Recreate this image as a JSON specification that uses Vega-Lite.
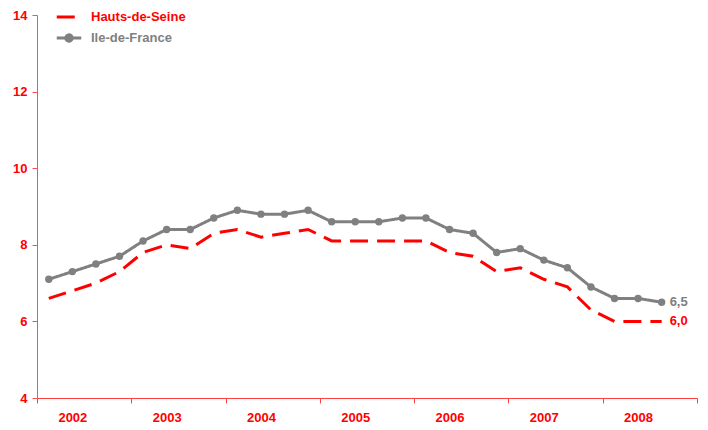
{
  "$schema": "https://vega.github.io/schema/vega-lite/v6.json",
  "width": 660,
  "height": 383,
  "autosize": {"type": "none"},
  "padding": {"left": 37, "top": 15, "right": 11, "bottom": 32},
  "background": "white",
  "config": {
    "view": {"stroke": null},
    "font": "Liberation Sans",
    "locale": {"number": {"decimal": ",", "thousands": " ", "grouping": [3], "currency": ["", " €"]}}
  },
  "data": {
    "values": [
      {"t": 2002.125, "series": "Hauts-de-Seine", "value": 6.6},
      {"t": 2002.375, "series": "Hauts-de-Seine", "value": 6.8},
      {"t": 2002.625, "series": "Hauts-de-Seine", "value": 7.0},
      {"t": 2002.875, "series": "Hauts-de-Seine", "value": 7.3},
      {"t": 2003.125, "series": "Hauts-de-Seine", "value": 7.8},
      {"t": 2003.375, "series": "Hauts-de-Seine", "value": 8.0},
      {"t": 2003.625, "series": "Hauts-de-Seine", "value": 7.9},
      {"t": 2003.875, "series": "Hauts-de-Seine", "value": 8.3},
      {"t": 2004.125, "series": "Hauts-de-Seine", "value": 8.4},
      {"t": 2004.375, "series": "Hauts-de-Seine", "value": 8.2},
      {"t": 2004.625, "series": "Hauts-de-Seine", "value": 8.3},
      {"t": 2004.875, "series": "Hauts-de-Seine", "value": 8.4},
      {"t": 2005.125, "series": "Hauts-de-Seine", "value": 8.1},
      {"t": 2005.375, "series": "Hauts-de-Seine", "value": 8.1},
      {"t": 2005.625, "series": "Hauts-de-Seine", "value": 8.1},
      {"t": 2005.875, "series": "Hauts-de-Seine", "value": 8.1},
      {"t": 2006.125, "series": "Hauts-de-Seine", "value": 8.1},
      {"t": 2006.375, "series": "Hauts-de-Seine", "value": 7.8},
      {"t": 2006.625, "series": "Hauts-de-Seine", "value": 7.7},
      {"t": 2006.875, "series": "Hauts-de-Seine", "value": 7.3},
      {"t": 2007.125, "series": "Hauts-de-Seine", "value": 7.4},
      {"t": 2007.375, "series": "Hauts-de-Seine", "value": 7.1},
      {"t": 2007.625, "series": "Hauts-de-Seine", "value": 6.9},
      {"t": 2007.875, "series": "Hauts-de-Seine", "value": 6.3},
      {"t": 2008.125, "series": "Hauts-de-Seine", "value": 6.0},
      {"t": 2008.375, "series": "Hauts-de-Seine", "value": 6.0},
      {"t": 2008.625, "series": "Hauts-de-Seine", "value": 6.0, "last": true},
      {"t": 2002.125, "series": "Ile-de-France", "value": 7.1},
      {"t": 2002.375, "series": "Ile-de-France", "value": 7.3},
      {"t": 2002.625, "series": "Ile-de-France", "value": 7.5},
      {"t": 2002.875, "series": "Ile-de-France", "value": 7.7},
      {"t": 2003.125, "series": "Ile-de-France", "value": 8.1},
      {"t": 2003.375, "series": "Ile-de-France", "value": 8.4},
      {"t": 2003.625, "series": "Ile-de-France", "value": 8.4},
      {"t": 2003.875, "series": "Ile-de-France", "value": 8.7},
      {"t": 2004.125, "series": "Ile-de-France", "value": 8.9},
      {"t": 2004.375, "series": "Ile-de-France", "value": 8.8},
      {"t": 2004.625, "series": "Ile-de-France", "value": 8.8},
      {"t": 2004.875, "series": "Ile-de-France", "value": 8.9},
      {"t": 2005.125, "series": "Ile-de-France", "value": 8.6},
      {"t": 2005.375, "series": "Ile-de-France", "value": 8.6},
      {"t": 2005.625, "series": "Ile-de-France", "value": 8.6},
      {"t": 2005.875, "series": "Ile-de-France", "value": 8.7},
      {"t": 2006.125, "series": "Ile-de-France", "value": 8.7},
      {"t": 2006.375, "series": "Ile-de-France", "value": 8.4},
      {"t": 2006.625, "series": "Ile-de-France", "value": 8.3},
      {"t": 2006.875, "series": "Ile-de-France", "value": 7.8},
      {"t": 2007.125, "series": "Ile-de-France", "value": 7.9},
      {"t": 2007.375, "series": "Ile-de-France", "value": 7.6},
      {"t": 2007.625, "series": "Ile-de-France", "value": 7.4},
      {"t": 2007.875, "series": "Ile-de-France", "value": 6.9},
      {"t": 2008.125, "series": "Ile-de-France", "value": 6.6},
      {"t": 2008.375, "series": "Ile-de-France", "value": 6.6},
      {"t": 2008.625, "series": "Ile-de-France", "value": 6.5, "last": true}
    ]
  },
  "encoding": {
    "x": {
      "field": "t", "type": "quantitative",
      "scale": {"domain": [2002, 2009], "nice": false, "zero": false},
      "axis": {
        "title": null, "grid": false,
        "values": [2002, 2002.375, 2003, 2003.375, 2004, 2004.375, 2005, 2005.375, 2006, 2006.375, 2007, 2007.375, 2008, 2008.375, 2009],
        "labelExpr": "datum.value % 1 > 0.1 ? '' + floor(datum.value) : ''",
        "tickColor": {"condition": {"test": "datum.value % 1 == 0", "value": "#ff4040"}, "value": "transparent"},
        "domainColor": "#ff4040",
        "tickSize": 5,
        "labelPadding": 8,
        "labelColor": "#ff0000",
        "labelFont": "Liberation Sans",
        "labelFontSize": 13,
        "labelFontWeight": "bold",
        "labelOverlap": false,
        "labelFlush": false
      }
    },
    "y": {
      "field": "value", "type": "quantitative",
      "scale": {"domain": [4, 14], "nice": false, "zero": false},
      "axis": {
        "title": null, "grid": false,
        "values": [4, 6, 8, 10, 12, 14],
        "domainColor": "#ff5050",
        "tickColor": "#ff5050",
        "tickSize": 5,
        "labelPadding": 5,
        "labelColor": "#ff0000",
        "labelFont": "Liberation Sans",
        "labelFontSize": 13,
        "labelFontWeight": "bold"
      }
    }
  },
  "layer": [
    {
      "mark": {"type": "line", "strokeWidth": 3},
      "encoding": {
        "color": {
          "field": "series", "type": "nominal",
          "scale": {"domain": ["Hauts-de-Seine", "Ile-de-France"], "range": ["#ff0000", "#808080"]},
          "legend": {
            "title": null,
            "orient": "none",
            "legendX": 18,
            "legendY": -12,
            "symbolType": {"expr": "datum.label == 'Ile-de-France' ? 'M-1,0H1M0.26,0A0.26,0.26,0,1,1,-0.26,0A0.26,0.26,0,1,1,0.26,0Z' : 'stroke'"},
            "symbolFillColor": "#808080",
            "symbolSize": 600,
            "symbolStrokeWidth": 3,
            "labelFont": "Liberation Sans",
            "labelFontSize": 13,
            "labelFontWeight": "bold",
            "labelOffset": 8,
            "rowPadding": 0,
            "labelColor": {"expr": "datum.label == 'Hauts-de-Seine' ? '#ff0000' : '#808080'"}
          }
        },
        "strokeDash": {
          "field": "series", "type": "nominal",
          "scale": {"domain": ["Hauts-de-Seine", "Ile-de-France"], "range": [[18, 9], [1, 0]]},
          "legend": {
            "title": null,
            "orient": "none",
            "legendX": 18,
            "legendY": -12,
            "symbolType": {"expr": "datum.label == 'Ile-de-France' ? 'M-1,0H1M0.26,0A0.26,0.26,0,1,1,-0.26,0A0.26,0.26,0,1,1,0.26,0Z' : 'stroke'"},
            "symbolFillColor": "#808080",
            "symbolSize": 600,
            "symbolStrokeWidth": 3,
            "labelFont": "Liberation Sans",
            "labelFontSize": 13,
            "labelFontWeight": "bold",
            "labelOffset": 8,
            "rowPadding": 0,
            "labelColor": {"expr": "datum.label == 'Hauts-de-Seine' ? '#ff0000' : '#808080'"}
          }
        }
      }
    },
    {
      "transform": [{"filter": "datum.series == 'Ile-de-France'"}],
      "mark": {"type": "point", "filled": true, "size": 55, "color": "#808080", "opacity": 1}
    },
    {
      "transform": [{"filter": "datum.last"}],
      "mark": {"type": "text", "align": "left", "baseline": "middle", "dx": 8, "fontSize": 13, "fontWeight": "bold", "font": "Liberation Sans"},
      "encoding": {
        "text": {"field": "value", "type": "quantitative", "format": ".1f"},
        "color": {"field": "series", "type": "nominal", "scale": {"domain": ["Hauts-de-Seine", "Ile-de-France"], "range": ["#ff0000", "#808080"]}, "legend": null}
      }
    }
  ]
}
